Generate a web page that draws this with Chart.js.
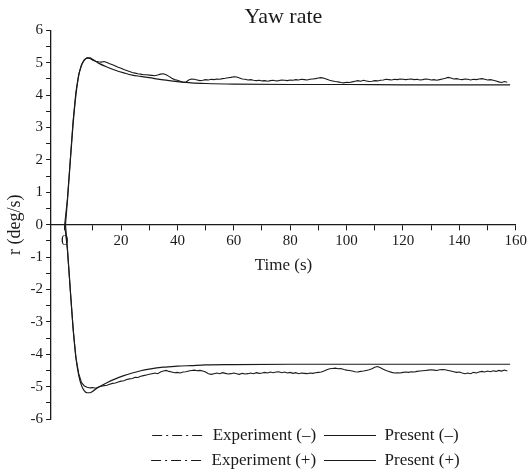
<!DOCTYPE html>
<html>
<head>
    <title>Yaw rate</title>
    <meta charset="UTF-8">
    <script src="https://cdn.jsdelivr.net/npm/chart.js"></script>
    <style>
        body { margin: 0; background: #fff; }
        #wrap { width: 529px; height: 474px; }
    </style>
</head>
<body>
    <div id="wrap"><canvas id="yawChart"></canvas></div>

    <script>
        // sample times of the measured runs (s)
        const expTime = [
            0, 1, 2, 3, 4, 5, 6, 7, 8, 9, 10, 11, 12, 13, 14, 15, 16, 17, 18, 19,
            20, 21, 22, 23, 24, 25, 26, 27, 28, 29, 30, 31, 32, 33, 34, 35, 36, 37, 38, 39,
            40, 41, 42, 43, 44, 45, 46, 47, 48, 49, 50, 51, 52, 53, 54, 55, 56, 57, 58, 59,
            60, 61, 62, 63, 64, 65, 66, 67, 68, 69, 70, 71, 72, 73, 74, 75, 76, 77, 78, 79,
            80, 81, 82, 83, 84, 85, 86, 87, 88, 89, 90, 91, 92, 93, 94, 95, 96, 97, 98, 99,
            100, 101, 102, 103, 104, 105, 106, 107, 108, 109, 110, 111, 112, 113, 114, 115, 116, 117, 118, 119,
            120, 121, 122, 123, 124, 125, 126, 127, 128, 129, 130, 131, 132, 133, 134, 135, 136, 137, 138, 139,
            140, 141, 142, 143, 144, 145, 146, 147, 148, 149, 150, 151, 152, 153, 154, 155, 156, 157
        ];

        // Experiment (+), deg/s
        const expPos = [
            0.0, 0.8, 2.0, 3.2, 4.1, 4.65, 4.95, 5.1, 5.15, 5.13, 5.08, 5.05, 5.03, 5.02, 5.04, 5.01, 4.97, 4.94, 4.9, 4.86,
            4.83, 4.79, 4.76, 4.73, 4.7, 4.68, 4.66, 4.65, 4.63, 4.63, 4.62, 4.61, 4.6, 4.62, 4.65, 4.66, 4.63, 4.58, 4.52, 4.48,
            4.46, 4.43, 4.4, 4.4, 4.47, 4.5, 4.49, 4.47, 4.45, 4.46, 4.48, 4.47, 4.49, 4.48, 4.5, 4.49, 4.51, 4.52, 4.54, 4.55,
            4.57, 4.56, 4.53, 4.5, 4.49, 4.47, 4.48, 4.46, 4.45, 4.46, 4.44, 4.45, 4.43, 4.45, 4.46, 4.44, 4.45, 4.47, 4.46, 4.45,
            4.47, 4.46, 4.48, 4.47, 4.49, 4.48, 4.47, 4.49, 4.5, 4.51, 4.53, 4.54, 4.52, 4.49, 4.46, 4.44, 4.42, 4.41, 4.39, 4.38,
            4.4, 4.39, 4.41, 4.43, 4.45, 4.43, 4.46, 4.44, 4.42, 4.43, 4.45, 4.44, 4.46, 4.47, 4.49, 4.48, 4.47, 4.49, 4.48, 4.5,
            4.49, 4.48, 4.49, 4.5, 4.48, 4.49, 4.47, 4.48, 4.5, 4.49, 4.47, 4.48, 4.46, 4.48, 4.5, 4.52, 4.55, 4.53, 4.5, 4.51,
            4.49, 4.48, 4.5, 4.49, 4.47, 4.49, 4.48, 4.5, 4.51, 4.49, 4.47, 4.48, 4.46, 4.44, 4.41, 4.39, 4.42, 4.4
        ];

        // Experiment (-), deg/s
        const expNeg = [
            0.0, -0.78, -2.0, -3.2, -4.1, -4.6, -4.88, -4.98, -5.02, -5.04, -5.03, -5.05, -5.01, -4.99, -4.97, -4.96, -4.93, -4.9, -4.89, -4.86,
            -4.83, -4.82, -4.78, -4.76, -4.75, -4.71, -4.72, -4.68, -4.66, -4.64, -4.62, -4.6, -4.58, -4.6, -4.55, -4.52, -4.5, -4.53, -4.55, -4.57,
            -4.56, -4.58, -4.55, -4.54, -4.52, -4.5, -4.49, -4.51, -4.5, -4.52, -4.55, -4.6, -4.62, -4.6, -4.58, -4.6, -4.57, -4.59, -4.61, -4.6,
            -4.58, -4.6, -4.62, -4.59, -4.61, -4.6, -4.58, -4.6, -4.57, -4.59, -4.58, -4.56, -4.58, -4.55, -4.57, -4.55, -4.54, -4.57, -4.55, -4.58,
            -4.56, -4.59, -4.57, -4.6, -4.58, -4.59, -4.6, -4.58, -4.59, -4.57, -4.56, -4.55, -4.52, -4.48, -4.45, -4.44, -4.43, -4.45, -4.44, -4.47,
            -4.49, -4.5, -4.52, -4.54, -4.55, -4.53, -4.52, -4.5, -4.48, -4.45, -4.4, -4.38, -4.42, -4.46, -4.5, -4.53, -4.56, -4.58, -4.57, -4.58,
            -4.56, -4.55, -4.56, -4.54, -4.55, -4.53, -4.52, -4.51, -4.5, -4.49, -4.48, -4.49, -4.5, -4.48, -4.47, -4.48, -4.5, -4.52, -4.54, -4.56,
            -4.55, -4.58, -4.6, -4.58, -4.6, -4.56, -4.58, -4.55, -4.53, -4.55, -4.52, -4.54, -4.51, -4.53, -4.5, -4.52, -4.49, -4.52
        ];

        // simulation ("Present") curves
        const presTime = [0.3, 1, 2, 3, 4, 5, 6, 7, 8, 9, 10, 12, 15, 18, 21, 24, 27, 30, 35, 40, 45, 50, 60, 80, 100, 120, 140, 158];
        const presPos = [0, 0.75, 1.95, 3.1, 4.0, 4.6, 4.92, 5.08, 5.15, 5.15, 5.1, 4.99, 4.87, 4.77, 4.69, 4.62, 4.58, 4.54, 4.47, 4.42, 4.38, 4.36, 4.34, 4.33, 4.33, 4.32, 4.32, 4.32];
        const presNeg = [0, -0.75, -2.0, -3.2, -4.1, -4.65, -4.97, -5.13, -5.19, -5.19, -5.14, -5.02, -4.88, -4.76, -4.66, -4.58, -4.51, -4.46, -4.4, -4.37, -4.35, -4.33, -4.32, -4.31, -4.31, -4.31, -4.31, -4.31];

        const seriesNames = ['Experiment (\u2013)', 'Present (\u2013)', 'Experiment (+)', 'Present (+)'];

        const toPoints = (xs, ys) => ys.map((y, i) => ({ x: xs[i], y: y }));

        const ink = '#1a1a1a';
        Chart.defaults.font.family = "'Liberation Serif', 'Times New Roman', serif";
        Chart.defaults.color = ink;

        // nudge the legend block to the right, as in the original figure
        const legendShift = {
            id: 'legendShift',
            afterLayout(chart) {
                if (chart.legend) {
                    chart.legend.left += 22;
                    chart.legend.right += 22;
                }
            }
        };

        const ctx = document.getElementById('yawChart').getContext('2d');

        new Chart(ctx, {
            type: 'line',
            data: {
                datasets: [
                    { label: seriesNames[0], data: toPoints(expTime, expNeg), borderColor: ink, borderWidth: 1.1, pointRadius: 0, tension: 0 },
                    { label: seriesNames[1], data: toPoints(presTime, presNeg), borderColor: ink, borderWidth: 1.2, pointRadius: 0, cubicInterpolationMode: 'monotone' },
                    { label: seriesNames[2], data: toPoints(expTime, expPos), borderColor: ink, borderWidth: 1.1, pointRadius: 0, tension: 0 },
                    { label: seriesNames[3], data: toPoints(presTime, presPos), borderColor: ink, borderWidth: 1.2, pointRadius: 0, cubicInterpolationMode: 'monotone' }
                ]
            },
            options: {
                responsive: true,
                maintainAspectRatio: false,
                animation: false,
                layout: { padding: { bottom: -5 } },
                plugins: {
                    title: {
                        display: true,
                        fullSize: false,
                        text: 'Yaw rate',
                        font: { size: 22, weight: 'normal' },
                        padding: { top: 4, bottom: 0 }
                    },
                    legend: {
                        position: 'bottom',
                        fullSize: false,
                        labels: {
                            usePointStyle: true,
                            pointStyleWidth: 52,
                            padding: 8,
                            font: { size: 17 },
                            generateLabels: chart => {
                                const items = Chart.defaults.plugins.legend.labels.generateLabels(chart);
                                return items.map((item, i) => {
                                    item.pointStyle = 'line';
                                    item.strokeStyle = ink;
                                    item.lineWidth = 1;
                                    item.lineDash = (i % 2 === 0) ? [10, 4, 2, 4] : [];
                                    return item;
                                });
                            }
                        }
                    },
                    tooltip: { enabled: false }
                },
                scales: {
                    x: {
                        type: 'linear',
                        position: { y: 0 },
                        min: -4.8,
                        max: 160,
                        border: { color: ink, width: 1.3 },
                        grid: { drawOnChartArea: false, tickLength: 5, tickColor: ink },
                        ticks: {
                            stepSize: 10,
                            includeBounds: false,
                            autoSkip: false,
                            maxRotation: 0,
                            padding: 2,
                            font: { size: 15 },
                            callback: v => (v % 20 === 0 ? v : '')
                        },
                        title: {
                            display: true,
                            text: 'Time (s)',
                            font: { size: 17 },
                            padding: { top: 4 }
                        }
                    },
                    y: {
                        min: -6,
                        max: 6,
                        border: { color: ink, width: 1.3 },
                        grid: { drawOnChartArea: false, tickLength: 5, tickColor: ink },
                        ticks: {
                            stepSize: 0.5,
                            autoSkip: false,
                            padding: 3,
                            font: { size: 15 },
                            callback: v => (Number.isInteger(v) ? v : '')
                        },
                        title: {
                            display: true,
                            text: 'r (deg/s)',
                            font: { size: 18 },
                            padding: { top: 4, bottom: 2 }
                        }
                    }
                }
            },
            plugins: [legendShift]
        });
    </script>
</body>
</html>
